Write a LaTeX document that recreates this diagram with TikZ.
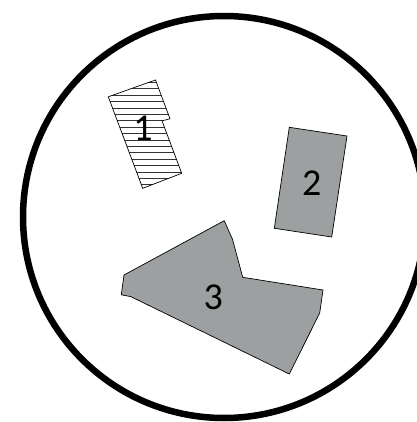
\documentclass[tikz,border=0pt]{standalone}
\usepackage{fontspec}
\setmainfont{Carlito}
\usepackage{tikz}
\definecolor{plotgray}{RGB}{157,160,160}

\begin{document}
\begin{tikzpicture}[
    x=1pt, y=-1pt,
    plot/.style={draw=black, line width=0.7pt, fill=#1, line join=miter},
    plot/.default=plotgray,
    hatchline/.style={draw=black!80, line width=0.5pt},
    num/.style={font=\fontsize{38}{42}\selectfont, inner sep=0pt}
]
\useasboundingbox (0,0) rectangle (416,422);

% Outer boundary
\draw[line width=6.5pt] (224,217) circle[radius=201];

% Parcel 1 (hatched)
\coordinate (p1a) at (108.3,96.8);
\coordinate (p1b) at (155.5,80);
\coordinate (p1c) at (170,118.8);
\coordinate (p1d) at (162,120.8);
\coordinate (p1e) at (181.7,173.3);
\coordinate (p1f) at (142.7,188.3);
\begin{scope}
    \clip (p1a) -- (p1b) -- (p1c) -- (p1d) -- (p1e) -- (p1f) -- cycle;
    \foreach \k in {0,...,16}
        \draw[hatchline] (100,82.3+6.4*\k) -- (190,82.3+6.4*\k);
\end{scope}
\draw[plot=none] (p1a) -- (p1b) -- (p1c) -- (p1d) -- (p1e) -- (p1f) -- cycle;
\node[num] (n1) at (143,128) {1};

% Parcel 2
\coordinate (p2a) at (289.3,127.3);
\coordinate (p2b) at (347,136);
\coordinate (p2c) at (331.7,237);
\coordinate (p2d) at (274.3,228.3);
\draw[plot] (p2a) -- (p2b) -- (p2c) -- (p2d) -- cycle;
\node[num] (n2) at (311.7,183.3) {2};

% Parcel 3
\coordinate (p3a) at (224.2,220.7);
\coordinate (p3b) at (232.5,239.3);
\coordinate (p3c) at (242.7,277.3);
\coordinate (p3d) at (323,290);
\coordinate (p3e) at (319.7,313);
\coordinate (p3f) at (289.3,374);
\coordinate (p3g) at (130.8,296.6);
\coordinate (p3h) at (121.3,294.8);
\coordinate (p3i) at (124,275);
\draw[plot] (p3a) -- (p3b) -- (p3c) -- (p3d) -- (p3e) -- (p3f) -- (p3g) -- (p3h) -- (p3i) -- cycle;
\node[num] (n3) at (213.3,297.7) {3};

\end{tikzpicture}
\end{document}
